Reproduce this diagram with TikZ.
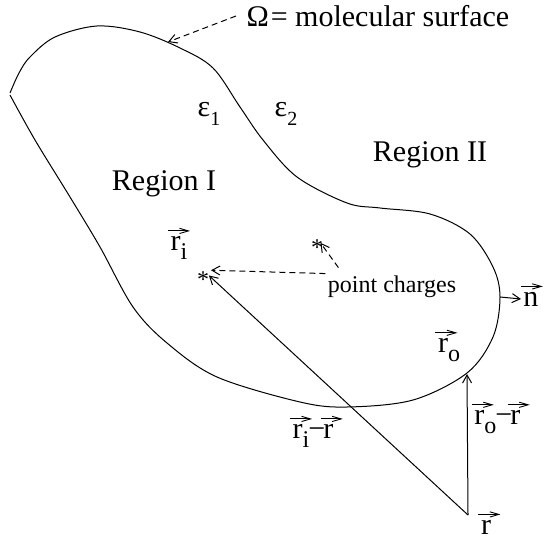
\documentclass[tikz,border=0pt]{standalone}
\usepackage{fontspec}
\setmainfont{Liberation Serif}
\usetikzlibrary{arrows.meta}
\newcommand{\rarr}{\raisebox{8.3pt}[0pt][0pt]{\tikz[x=1pt,y=1pt,line width=0.45pt]\draw[-{Straight Barb[length=4.5pt,width=2.6pt]}] (0,0) -- (11,0);}}
\newcommand{\vecof}[1]{\rlap{\kern-1.5pt\rarr}#1}
\newcommand{\low}[1]{\raisebox{-4.5pt}{\fontsize{12}{12}\selectfont #1}}
\tikzset{
  lbl/.style={font=\fontsize{15}{18}\selectfont, inner sep=1pt},
  small/.style={font=\fontsize{12}{14}\selectfont, inner sep=1pt},
  charge/.style={font=\fontsize{12}{14}\selectfont, inner sep=0pt, yshift=-5pt},
  pointer/.style={dashed, dash pattern=on 3pt off 2pt, -{Straight Barb[length=4pt,width=4.5pt]}},
  vecline/.style={-{Straight Barb[length=4pt,width=4.5pt]}},
}
\begin{document}
\begin{tikzpicture}[x=0.5pt,y=-0.5pt,line width=0.5pt]
\useasboundingbox (0,0) rectangle (544,544);
\draw plot[smooth, tension=0.55] coordinates {(10,93) (19,73) (30,57) (55,37) (97,26) (140,32) (180,48) (213,68) (240,107) (263,140) (297,177) (347,203) (380,208) (430,214) (470,234) (493,267) (500,297) (493,337) (467,373) (413,400) (347,407) (300,402) (217,377) (167,343) (133,307) (100,247) (70,197) (35,140) (10,95)};
\coordinate (om) at (168,42);
\node[lbl, anchor=west] (omega) at (244,16) {Ω\kern1pt= molecular surface};
\draw[pointer] ([xshift=-4pt]omega.west) -- (om);
\node[lbl] (eps1) at (209,114) {ε\low{\fontsize{10}{12}\selectfont 1}};
\node[lbl] (eps2) at (286,114) {ε\low{\fontsize{10}{12}\selectfont 2}};
\node[lbl] (reg1) at (164,184) {Region I};
\node[lbl] (reg2) at (430,155) {Region II};
\coordinate (q1) at (203,270);
\coordinate (q2) at (317,238);
\node[charge] at (q1) {*};
\node[charge] at (q2) {*};
\node[lbl] (ri) at (179,248) {\vecof{r}\low{i}};
\node[small] (pc) at (392,287) {point charges};
\draw[pointer, shorten >=4pt] (pc.north west) -- (q1);
\draw[pointer, shorten >=3pt] ([shift={(13,-6)}]pc.north west) -- (q2);
\coordinate (s) at (500,297);
\node[lbl, anchor=west] (n) at (521,299) {\vecof{n}};
\draw[vecline] (s) -- (n.west);
\coordinate (ro) at (467,374);
\coordinate (rp) at (468,515);
\node[lbl] (rolbl) at (449,350) {\vecof{r}\low{o}};
\node[lbl] (rlbl) at (486,527) {\vecof{r}};
\draw[vecline] (rp) -- (ro);
\draw[vecline, shorten >=4pt] (rp) -- (q1);
\node[lbl, anchor=west] (rordiff) at (472,422) {\vecof{r}\low{o}\kern-0.5pt−\kern-1pt\vecof{r}};
\node[lbl] (ridiff) at (313,436) {\vecof{r}\low{i}\kern-0.5pt−\kern-1pt\vecof{r}};
\end{tikzpicture}
\end{document}
